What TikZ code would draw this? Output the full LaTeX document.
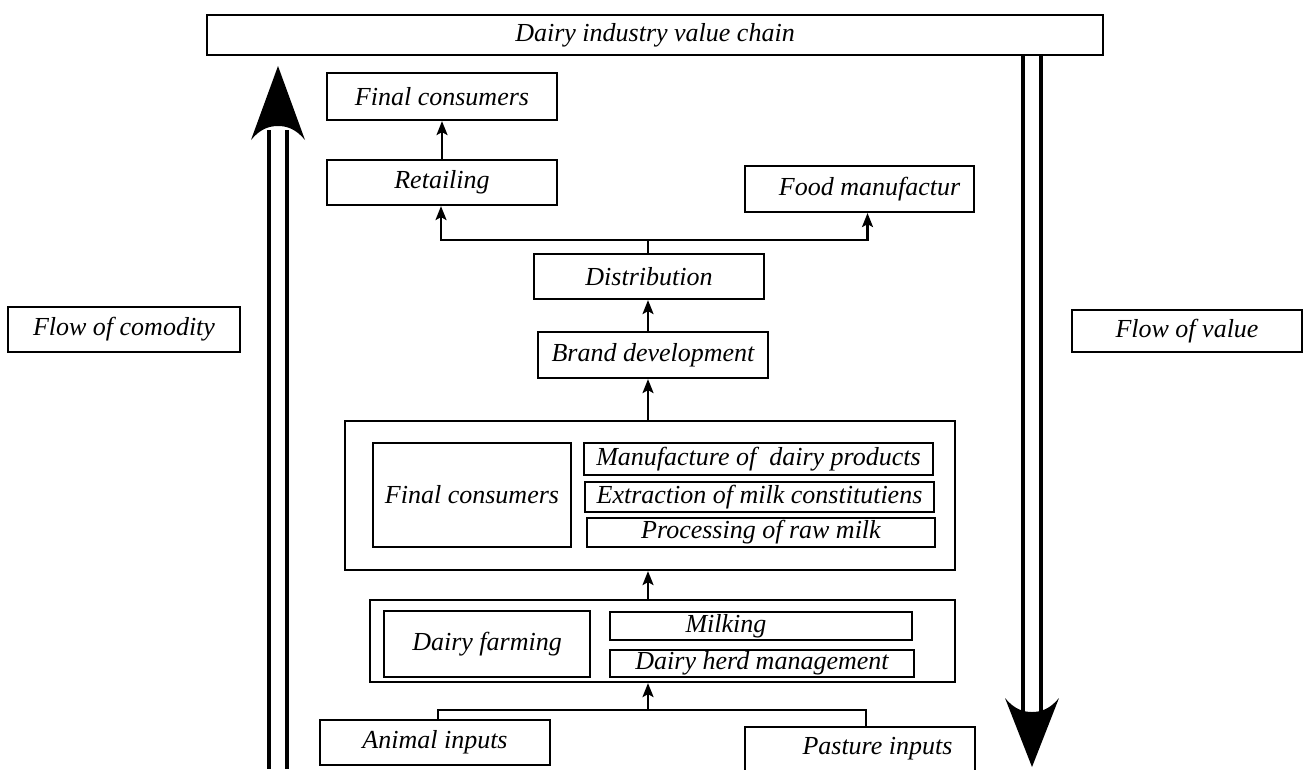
\documentclass[tikz,border=0pt]{standalone}
\usepackage{fontspec}
\setmainfont{Liberation Serif}
\usetikzlibrary{arrows.meta}
\newcommand{\bx}[6]{\node[box,minimum width={#4-#2},minimum height={#5-#3}] (#1) at ({(#2+#4)/2},{(#3+#5)/2}) {#6};}
\begin{document}
\begin{tikzpicture}[x=1pt,y=-1pt,
  box/.style={draw,line width=2.2pt,inner sep=0pt,font=\itshape\fontsize{26}{30}\selectfont},
  conn/.style={line width=2.2pt},
  arr/.style={line width=2.2pt,-{Stealth[length=14pt,width=11pt,inset=3pt]}},
  dbl/.style={line width=3.6pt}]
\useasboundingbox (0,0) rectangle (1305,769);
% title
\bx{title}{207}{15}{1103}{55}{Dairy industry value chain}
% top boxes
\bx{fcons}{327}{73}{557}{120}{Final consumers}
\bx{retail}{327}{160}{557}{205}{Retailing}
\bx{food}{745}{166}{974}{212}{\hspace*{20pt}Food manufactur}
\bx{dist}{534}{254}{764}{299}{Distribution}
\bx{brand}{538}{332}{768}{378}{Brand development}
% side labels
\bx{fcom}{8}{307}{240}{352}{Flow of comodity}
\bx{fval}{1072}{310}{1302}{352}{Flow of value}
% processing group
\bx{grp2}{345}{421}{955}{570}{}
\bx{fc2}{373}{443}{571}{547}{Final consumers}
\bx{manu}{584}{443}{933}{475}{Manufacture of\ \ dairy products}
\bx{extr}{585}{482}{934}{512}{Extraction of milk constitutiens}
\bx{proc}{587}{518}{935}{547}{Processing of raw milk}
% farming group
\bx{grp1}{370}{600}{955}{682}{}
\bx{farm}{384}{611}{590}{677}{Dairy farming}
\bx{milk}{610}{612}{912}{640}{Milking\hspace*{70pt}}
\bx{herd}{610}{650}{914}{677}{Dairy herd management}
% inputs
\bx{animal}{320}{720}{550}{765}{Animal inputs}
\bx{pasture}{745}{727}{975}{771}{\hspace*{35pt}Pasture inputs}
% connectors
\draw[arr] (retail.north) -- (fcons.south);
\coordinate (j) at (648,240);
\draw[conn] (dist.north -| j) -- (j);
\draw[arr] (j) -| ([xshift=-1pt]retail.south);
\draw[arr] (j) -| ([xshift=8pt]food.south);
\draw[arr] (brand.north -| j) -- (dist.south -| j);
\draw[arr] (grp2.north -| j) -- (brand.south -| j);
\draw[arr] (grp1.north -| j) -- (grp2.south -| j);
\coordinate (k) at (648,710);
\draw[arr] (k) -- (grp1.south -| k);
\draw[conn] ([xshift=3pt]animal.north) |- (k);
\draw[conn] ([xshift=6pt]pasture.north) |- (k);
% flow of commodity (up)
\draw[dbl] (269,130) -- (269,769);
\draw[dbl] (287,130) -- (287,769);
\fill (278,66) -- (305,140) .. controls (296,129) and (287,126) .. (278,126) .. controls (269,126) and (260,129) .. (251,140) -- cycle;
% flow of value (down)
\draw[dbl] (title.south -| 1023,0) -- (1023,712);
\draw[dbl] (title.south -| 1041,0) -- (1041,712);
\fill (1032,767) -- (1059,698) .. controls (1050,709) and (1041,712) .. (1032,712) .. controls (1023,712) and (1014,709) .. (1005,698) -- cycle;
\end{tikzpicture}
\end{document}
